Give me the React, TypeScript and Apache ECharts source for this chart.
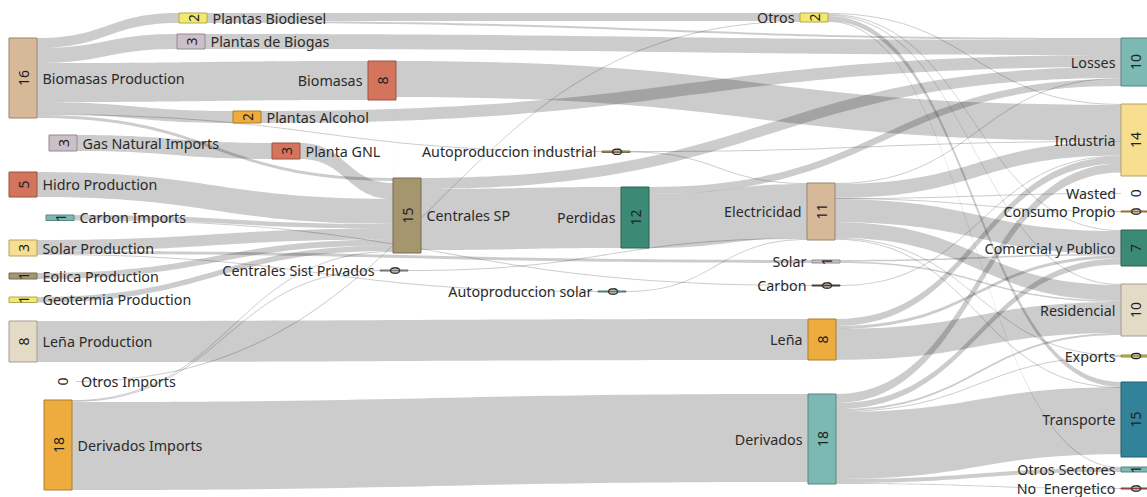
import React, { useEffect, useRef } from 'react';
import * as echarts from 'echarts';

// ---------- data ----------
const nodeNames = [
  'Plantas Biodiesel', 'Otros', 'Plantas de Biogas', 'Biomasas Production', 'Losses',
  'Biomasas', 'Industria', 'Plantas Alcohol', 'Gas Natural Imports', 'Planta GNL',
  'Autoproduccion industrial', 'Hidro Production', 'Centrales SP', 'Electricidad', 'Perdidas',
  'Wasted', 'Consumo Propio', 'Carbon Imports', 'Comercial y Publico', 'Solar Production',
  'Solar', 'Centrales Sist Privados', 'Eolica Production', 'Residencial', 'Carbon',
  'Autoproduccion solar', 'Geotermia Production', 'Leña', 'Leña Production', 'Exports',
  'Otros Imports', 'Transporte', 'Derivados', 'Derivados Imports', 'Otros Sectores',
  'No  Energetico',
];
const nodeRawValues = [
  2.0, 1.8, 3.0, 16.0, 9.6,
  7.8, 14.4, 2.4, 3.2, 3.2,
  0.3, 5.0, 15.0, 11.4, 12.2,
  0.05, 0.2, 1.1, 7.2, 3.2,
  0.6, 0.2, 1.2, 10.4, 0.2,
  0.2, 1.1, 8.2, 8.2, 0.3,
  0.2, 15.0, 18.0, 18.0, 1.0,
  0.2,
];
const linkSources = [
  'Biomasas Production', 'Biomasas Production', 'Biomasas Production', 'Biomasas Production', 'Biomasas Production', 'Biomasas Production',
  'Plantas Biodiesel', 'Plantas Biodiesel', 'Plantas de Biogas', 'Otros Imports',
  'Biomasas', 'Biomasas', 'Plantas Alcohol',
  'Gas Natural Imports', 'Planta GNL', 'Hidro Production', 'Carbon Imports', 'Carbon Imports',
  'Solar Production', 'Solar Production', 'Solar Production', 'Eolica Production', 'Geotermia Production',
  'Leña Production', 'Derivados Imports', 'Derivados Imports', 'Derivados Imports',
  'Centrales SP', 'Centrales SP', 'Perdidas', 'Perdidas',
  'Autoproduccion industrial', 'Autoproduccion industrial', 'Autoproduccion solar', 'Centrales Sist Privados',
  'Electricidad', 'Electricidad', 'Electricidad', 'Electricidad', 'Electricidad', 'Electricidad', 'Electricidad', 'Electricidad',
  'Solar', 'Solar', 'Carbon',
  'Leña', 'Leña', 'Leña',
  'Derivados', 'Derivados', 'Derivados', 'Derivados', 'Derivados', 'Derivados', 'Derivados',
  'Otros', 'Otros', 'Otros', 'Otros', 'Otros',
];
const linkTargets = [
  'Plantas Biodiesel', 'Plantas de Biogas', 'Biomasas', 'Plantas Alcohol', 'Autoproduccion industrial', 'Centrales SP',
  'Otros', 'Losses', 'Losses', 'Otros',
  'Industria', 'Centrales SP', 'Losses',
  'Planta GNL', 'Centrales SP', 'Centrales SP', 'Centrales SP', 'Carbon',
  'Centrales SP', 'Solar', 'Autoproduccion solar', 'Centrales SP', 'Centrales SP',
  'Leña', 'Derivados', 'Centrales SP', 'Centrales Sist Privados',
  'Losses', 'Perdidas', 'Electricidad', 'Losses',
  'Electricidad', 'Industria', 'Electricidad', 'Electricidad',
  'Losses', 'Industria', 'Wasted', 'Consumo Propio', 'Comercial y Publico', 'Residencial', 'Exports', 'Transporte',
  'Comercial y Publico', 'Residencial', 'Industria',
  'Industria', 'Comercial y Publico', 'Residencial',
  'Industria', 'Comercial y Publico', 'Residencial', 'Exports', 'Transporte', 'Otros Sectores', 'No  Energetico',
  'Industria', 'Comercial y Publico', 'Residencial', 'Transporte', 'Otros Sectores',
];
const linkValues = [
  2.0, 3.0, 7.8, 2.4, 0.2, 0.6,
  1.6, 0.4, 3.0, 0.2,
  7.2, 0.4, 2.4,
  3.2, 3.2, 5.0, 0.9, 0.2,
  2.2, 0.6, 0.2, 1.2, 1.1,
  8.2, 17.6, 0.2, 0.2,
  2.2, 12.2, 10.8, 1.4,
  0.2, 0.1, 0.2, 0.2,
  0.2, 2.8, 0.05, 0.2, 4.6, 3.1, 0.2, 0.05,
  0.3, 0.3, 0.2,
  1.4, 0.6, 6.2,
  1.8, 1.2, 0.4, 0.2, 13.4, 0.8, 0.2,
  0.2, 0.2, 0.2, 1.0, 0.2,
];

// ---------- layout & style (kept apart from data) ----------
const nodeLeft = [
  179, 800, 177, 9, 1121,
  368, 1121, 233, 49, 272,
  602, 9, 393, 807, 621,
  1121, 1121, 46, 1121, 9,
  812, 380, 9, 1121, 812,
  598, 9, 808, 9, 1121,
  48, 1121, 808, 44, 1121,
  1121,
];
const nodeTop = [
  13, 13, 34, 38, 38,
  61, 104, 111, 135, 143,
  151, 172, 178, 183, 187,
  193, 211, 215, 230, 240,
  260, 270, 273, 284, 285,
  291, 297, 319, 321, 355,
  381, 382, 394, 400, 467,
  488,
];
const nodeColors = [
  '#f4e970', '#f4e970', '#cdbfc8', '#d6b999', '#7cb9b2',
  '#d4745c', '#f8df90', '#eeac3e', '#cdbfc8', '#d4745c',
  '#a8976f', '#d4745c', '#a6966f', '#d6b999', '#3a8a76',
  'transparent', '#d38b2f', '#7cb9b2', '#3a8a76', '#f8df90',
  '#cdbfc8', '#9a9a9a', '#a6966f', '#e4dbc7', '#555555',
  '#5aa6a0', '#f4e970', '#eeac3e', '#e4dbc7', '#c6bf5a',
  'transparent', '#32829a', '#7cb9b2', '#eeac3e', '#7cb9b2',
  '#b85a4a',
];
const rightLabelled = new Set([
  'Plantas Biodiesel', 'Plantas de Biogas', 'Biomasas Production', 'Plantas Alcohol',
  'Gas Natural Imports', 'Planta GNL', 'Hidro Production', 'Centrales SP', 'Carbon Imports',
  'Solar Production', 'Eolica Production', 'Geotermia Production', 'Leña Production',
  'Otros Imports', 'Derivados Imports',
]);

const W = 1147;
const KY = 5;
const FONT = "'Noto Sans', sans-serif";

function darken(hex: string): string {
  if (!hex.startsWith('#')) return 'transparent';
  const n = parseInt(hex.slice(1), 16);
  const f = 0.72;
  const r = Math.round(((n >> 16) & 255) * f);
  const g = Math.round(((n >> 8) & 255) * f);
  const b = Math.round((n & 255) * f);
  return `rgb(${r},${g},${b})`;
}

export default function App() {
  const ref = useRef<HTMLDivElement>(null);
  useEffect(() => {
    if (!ref.current) return;
    const chart = echarts.init(ref.current, null, { renderer: 'svg' });

    // node value as ECharts computes it: max(in, out, raw)
    const values = nodeNames.map((name, i) => {
      let sin = 0, sout = 0;
      linkSources.forEach((s, k) => {
        if (s === name) sout += linkValues[k];
        if (linkTargets[k] === name) sin += linkValues[k];
      });
      return Math.max(sin, sout, nodeRawValues[i]);
    });
    const total = values.reduce((a, b) => a + b, 0);
    const H = KY * total;
    const valueByName: Record<string, number> = {};
    nodeNames.forEach((n, i) => (valueByName[n] = values[i]));

    const nodes = nodeNames.map((name, i) => ({
      name,
      value: values[i],
      depth: 0,
      localX: nodeLeft[i] / W,
      localY: nodeTop[i] / H,
      itemStyle: {
        color: nodeColors[i],
        borderColor: darken(nodeColors[i]),
        borderWidth: nodeColors[i] === 'transparent' ? 0 : 1,
        opacity: 1,
      },
      label: { position: rightLabelled.has(name) ? 'right' : 'left' },
    }));
    const valueNodes = nodeNames.map((name, i) => ({
      name,
      value: values[i],
      depth: 0,
      localX: nodeLeft[i] / W,
      localY: nodeTop[i] / H,
    }));
    const links = linkSources.map((s, k) => ({ source: s, target: linkTargets[k], value: linkValues[k] }));

    const common = {
      type: 'sankey',
      left: 0,
      top: 0,
      width: W,
      height: H,
      nodeWidth: 28,
      nodeGap: 0,
      nodeAlign: 'left',
      layoutIterations: 0,
      draggable: false,
      emphasis: { disabled: true },
    };

    chart.setOption({
      animation: false,
      series: [
        {
          ...common,
          data: nodes,
          links,
          lineStyle: { color: '#000000', opacity: 0.2, curveness: 0.5 },
          label: {
            show: true,
            distance: 5,
            fontFamily: FONT,
            fontSize: 14.3,
            color: '#2a2a2a',
          },
        },
        {
          ...common,
          silent: true,
          data: valueNodes,
          links: [],
          itemStyle: { color: 'rgba(0,0,0,0)', borderWidth: 0 },
          label: {
            show: true,
            position: 'inside',
            rotate: 90,
            fontFamily: FONT,
            fontSize: 14,
            color: '#222222',
            formatter: (p: any) => String(Math.round(valueByName[p.name])),
          },
        },
      ],
    } as any);
    return () => chart.dispose();
  }, []);
  return (
    <div
      ref={ref}
      style={{ position: 'absolute', left: 0, top: 0, width: 1147, height: 497, background: '#ffffff' }}
    />
  );
}
